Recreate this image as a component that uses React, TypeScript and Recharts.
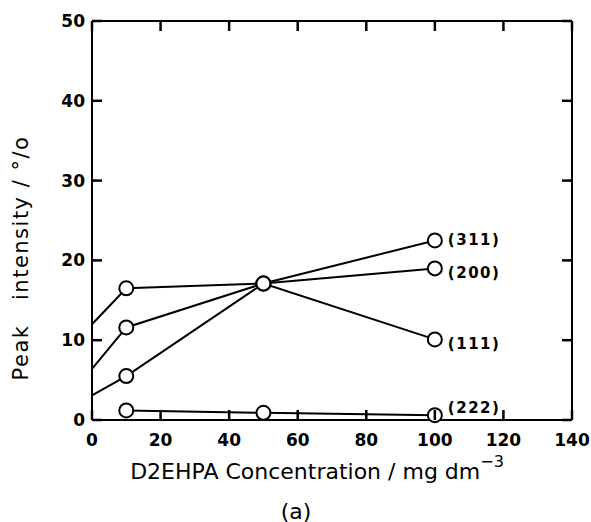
import * as React from 'react'
import { LineChart, Line, XAxis, YAxis, Label } from 'recharts'

// D2EHPA concentration (mg dm-3); the 0 entries are where each line starts, without a marker
const concentrations = [0, 10, 50, 100]
const peak311 = [3.1, 5.5, 17.1, 22.5]
const peak200 = [6.4, 11.6, 17.1, 19.0]
const peak111 = [12.0, 16.5, 17.1, 10.1]
const peak222 = [null, 1.2, 0.9, 0.6]

const seriesNames = ['(311)', '(200)', '(111)', '(222)']
const seriesKeys = ['p311', 'p200', 'p111', 'p222']
const seriesValues = [peak311, peak200, peak111, peak222]

const xTicks = [0, 20, 40, 60, 80, 100, 120, 140]
const yTicks = [0, 10, 20, 30, 40, 50]

// label nudges (px) for the series names at the right end
const labelDy = [0, 5, 5, -7]

const data = concentrations.map((c, i) => {
  const row: Record<string, number | null> = { conc: c }
  seriesKeys.forEach((k, s) => { row[k] = seriesValues[s][i] })
  return row
})

const font = '"DejaVu Sans", sans-serif'
const TICK = 10

// inward tick marks drawn together with the label
function BottomTick(props: any) {
  const { x, y, payload } = props
  const axisY = y - 20
  return (
    <g>
      <line x1={x} x2={x} y1={axisY} y2={axisY - TICK} stroke="#000" strokeWidth={2.5} />
      <text x={x} y={axisY + 20} textAnchor="middle" dominantBaseline="central"
        fontSize={17} fontWeight="bold" fontFamily={font} fill="#000">{payload.value}</text>
    </g>
  )
}

function TopTick(props: any) {
  const { x, y } = props
  return <line x1={x} x2={x} y1={y} y2={y + TICK} stroke="#000" strokeWidth={2.5} />
}

function LeftTick(props: any) {
  const { x, y, payload } = props
  const axisX = x + 7
  return (
    <g>
      <line x1={axisX} x2={axisX + TICK} y1={y} y2={y} stroke="#000" strokeWidth={2.5} />
      <text x={axisX - 7} y={y} textAnchor="end" dominantBaseline="central"
        fontSize={17} fontWeight="bold" fontFamily={font} fill="#000">{payload.value}</text>
    </g>
  )
}

function RightTick(props: any) {
  const { x, y } = props
  return <line x1={x} x2={x - TICK} y1={y} y2={y} stroke="#000" strokeWidth={2.5} />
}

function Marker(props: any) {
  const { cx, cy, payload, index } = props
  if (payload.conc === 0 || cy == null) return <g key={`e-${index}`} />
  return <circle key={`m-${index}`} cx={cx} cy={cy} r={7} fill="#fff" stroke="#000" strokeWidth={2} />
}

function endLabel(s: number) {
  return (props: any) => {
    const { x, y, index } = props
    if (index !== concentrations.length - 1) return <g key={`l-${s}-${index}`} />
    return (
      <text key={`l-${s}-${index}`} x={x + 13} y={y + labelDy[s]} dominantBaseline="central"
        fontSize={15} fontWeight="bold" fontFamily={font} letterSpacing={1.5} fill="#000">
        {seriesNames[s]}
      </text>
    )
  }
}

function XTitle() {
  return (
    <g fontFamily={font} fill="#000">
      <text x={317} y={471} textAnchor="middle" dominantBaseline="central" fontSize={22}>
        D2EHPA Concentration / mg dm
        <tspan dy={-10} fontSize={16}>{'\u22123'}</tspan>
      </text>
      <text x={296} y={511} textAnchor="middle" dominantBaseline="central" fontSize={22}>(a)</text>
    </g>
  )
}

function YTitle() {
  return (
    <text x={21} y={258} transform="rotate(-90 21 258)" textAnchor="middle" dominantBaseline="central"
      fontSize={21} fontFamily={font} fill="#000" letterSpacing={1.5} style={{ whiteSpace: 'pre' }}>
      {'Peak   intensity / °/o'}
    </text>
  )
}

export default function App() {
  return (
    <div style={{ position: 'absolute', left: 0, top: 0, background: '#fff' }}>
      <LineChart width={591} height={522} data={data} margin={{ top: 20, right: 9, bottom: 42, left: 32 }}>
        <XAxis dataKey="conc" type="number" domain={[0, 140]} ticks={xTicks} height={60} interval={0}
          axisLine={{ stroke: '#000', strokeWidth: 2 }} tickLine={false} tickSize={0} tickMargin={20}
          tick={<BottomTick />}>
          <Label content={<XTitle />} />
        </XAxis>
        <XAxis xAxisId="top" orientation="top" dataKey="conc" type="number" domain={[0, 140]} ticks={xTicks}
          height={1} interval={0} axisLine={{ stroke: '#000', strokeWidth: 2 }} tickLine={false}
          tickSize={0} tickMargin={0} tick={<TopTick />} />
        <YAxis type="number" domain={[0, 50]} ticks={yTicks} width={60} interval={0}
          axisLine={{ stroke: '#000', strokeWidth: 2 }} tickLine={false} tickSize={0} tickMargin={7}
          tick={<LeftTick />}>
          <Label content={<YTitle />} />
        </YAxis>
        <YAxis yAxisId="right" orientation="right" type="number" domain={[0, 50]} ticks={yTicks} width={10}
          interval={0} axisLine={{ stroke: '#000', strokeWidth: 2 }} tickLine={false} tickSize={0} tickMargin={0}
          tick={<RightTick />} />
        {/* invisible copy so the right-hand frame axis gets its ticks */}
        <Line yAxisId="right" dataKey="p311" stroke="none" dot={false} activeDot={false}
          isAnimationActive={false} legendType="none" />
        {seriesKeys.map((k, s) => (
          <Line key={k} dataKey={k} stroke="#000" strokeWidth={2} isAnimationActive={false}
            dot={Marker} activeDot={false} label={endLabel(s)} connectNulls={false} />
        ))}
      </LineChart>
    </div>
  )
}
